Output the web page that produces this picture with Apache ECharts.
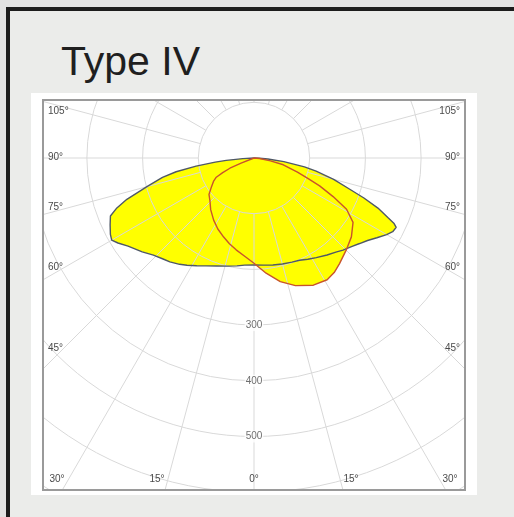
<!doctype html>
<html>
<head>
<meta charset="utf-8">
<title>Type IV</title>
<script src="https://cdn.jsdelivr.net/npm/echarts@6/dist/echarts.min.js"></script>
<style>
  html, body { margin: 0; padding: 0; width: 514px; height: 517px; overflow: hidden; background: #e2e2e2; }
  #page { position: absolute; left: 6px; top: 7px; width: 520px; height: 520px;
          border-left: 4px solid #1c1c1c; border-top: 4px solid #1c1c1c; background: #ebecea; }
  #title { position: absolute; left: 61px; top: 41px; font: 41px/41px "Liberation Sans", Arial, sans-serif; color: #1f1f1f; white-space: nowrap; }
  #panel { position: absolute; left: 31px; top: 93px; width: 446px; height: 402px; background: #fff; }
  #frame { position: absolute; left: 42px; top: 99px; width: 420px; height: 388px; border: 2px solid #9a9a9a; }
  #chart { position: absolute; left: 44px; top: 101px; width: 420px; height: 388px; }
</style>
</head>
<body>
<div id="page"></div>
<div id="title">Type IV</div>
<div id="panel"></div>
<div id="frame"></div>
<div id="chart"></div>
<script>
  // candela values, angle from nadir (negative = left)
  var transAngles = [-90, -87, -85, -84, -82, -80, -78, -75, -72, -70, -68, -65, -62, -60, -58, -55, -50, -46, -42, -39, -35, -32, -28, -24, -19, -14, -9, -5,
                     0, 5, 10, 15, 20, 24, 28, 32, 37, 41, 44, 48, 51, 54, 57, 60, 62, 64, 65, 66, 68, 70, 72, 75, 78, 80, 83, 86, 88, 90];
  var transValues = [0, 20, 50, 70, 105, 142, 168, 199, 240, 262, 278, 285, 292, 295, 288, 276, 262, 251, 244, 240, 233, 227, 219, 212, 205, 200, 196, 193,
                     192, 193, 195, 197, 199, 201, 206, 211, 218, 224, 230, 237, 244, 252, 263, 275, 282, 284, 277, 263, 240, 210, 180, 148, 114, 92, 54, 25, 10, 0];

  var longAngles = [-90, -70, -68, -67, -65, -63, -60, -56, -51, -46, -40, -33, -27, -21, -16, -11, -5,
                    0, 6, 12, 18, 25, 31, 35, 39, 45, 51, 57, 61, 64, 67, 69, 72, 77, 80, 85, 90];
  var longValues = [0, 0, 25, 47, 62, 76, 84, 92, 104, 110, 121, 133, 143, 152, 160, 168, 178,
                    189, 208, 227, 241, 252, 255, 251, 244, 234, 225, 212, 190, 158, 128, 105, 82, 54, 30, 10, 0];

  var radiusLabels = [300, 400, 500];
  var sideLabels = ['105°', '90°', '75°', '60°', '45°'];
  var bottomLabels = ['30°', '15°', '0°', '15°', '30°'];

  // layout
  var CX = 210, CY = 57, PX = 0.557, RMAX = 800;
  var sideY = [11, 57, 107, 167, 248];
  var bottomX = [13, 113, 210, 307, 406];

  function pairs(angles, values) {
    return angles.map(function (a, i) { return [values[i], a]; });
  }

  var labelFont = { fontFamily: 'Liberation Sans, Arial, sans-serif', fontSize: 10, fill: '#4a4a4a' };
  var graphics = [];
  sideLabels.forEach(function (t, i) {
    graphics.push({ type: 'text', left: 4, top: sideY[i] - 6, style: Object.assign({ text: t }, labelFont), z: 10 });
    graphics.push({ type: 'text', right: 4, top: sideY[i] - 6, style: Object.assign({ text: t }, labelFont), z: 10 });
  });
  bottomLabels.forEach(function (t, i) {
    graphics.push({ type: 'text', x: bottomX[i], y: 378, style: Object.assign({ text: t, align: 'center', verticalAlign: 'middle' }, labelFont), z: 10 });
  });

  var hidden = { show: false };
  var chart = echarts.init(document.getElementById('chart'));
  chart.setOption({
    animation: false,
    polar: [
      { center: [CX, CY], radius: [100 * PX, RMAX * PX] },
      { center: [CX, CY], radius: [0, RMAX * PX] }
    ],
    angleAxis: [
      { polarIndex: 0, type: 'value', min: -180, max: 180, interval: 15, startAngle: 90, clockwise: false, z: 2,
        axisLine: hidden, axisTick: hidden, axisLabel: hidden,
        splitLine: { show: true, lineStyle: { color: '#d9d9d9', width: 1 } } },
      { polarIndex: 1, type: 'value', min: -180, max: 180, interval: 15, startAngle: 90, clockwise: false,
        axisLine: hidden, axisTick: hidden, axisLabel: hidden, splitLine: hidden }
    ],
    radiusAxis: [
      { polarIndex: 0, type: 'value', min: 100, max: RMAX, interval: 100, z: 2,
        axisLine: hidden, axisTick: hidden, axisLabel: hidden,
        splitLine: { show: true, lineStyle: { color: '#d9d9d9', width: 1 } } },
      { polarIndex: 1, type: 'value', min: 0, max: RMAX, interval: 100,
        axisLine: hidden, axisTick: hidden, axisLabel: hidden, splitLine: hidden }
    ],
    graphic: graphics,
    series: [
      { type: 'line', coordinateSystem: 'polar', polarIndex: 1, z: 1, showSymbol: false, silent: true,
        data: pairs(transAngles, transValues), lineStyle: { width: 0 }, areaStyle: { color: '#ffff00', opacity: 1 } },
      { type: 'line', coordinateSystem: 'polar', polarIndex: 1, z: 1, showSymbol: false, silent: true,
        data: pairs(longAngles, longValues), lineStyle: { width: 0 }, areaStyle: { color: '#ffff00', opacity: 1 } },
      { type: 'line', coordinateSystem: 'polar', polarIndex: 1, z: 3, showSymbol: false, silent: true,
        data: pairs(transAngles, transValues), lineStyle: { color: '#4f5866', width: 1.4 } },
      { type: 'line', coordinateSystem: 'polar', polarIndex: 1, z: 3, showSymbol: false, silent: true,
        data: pairs(longAngles, longValues), lineStyle: { color: '#c8532c', width: 1.4 } },
      { type: 'scatter', coordinateSystem: 'polar', polarIndex: 1, z: 4, symbolSize: 0, silent: true,
        data: radiusLabels.map(function (v) { return [v, 0]; }),
        label: { show: true, position: 'inside', formatter: function (p) { return p.value[0]; },
                 color: '#4a4a4a', fontSize: 10, fontFamily: 'Liberation Sans, Arial, sans-serif',
                 backgroundColor: '#fff', padding: [1, 1] } }
    ]
  });
</script>
</body>
</html>
